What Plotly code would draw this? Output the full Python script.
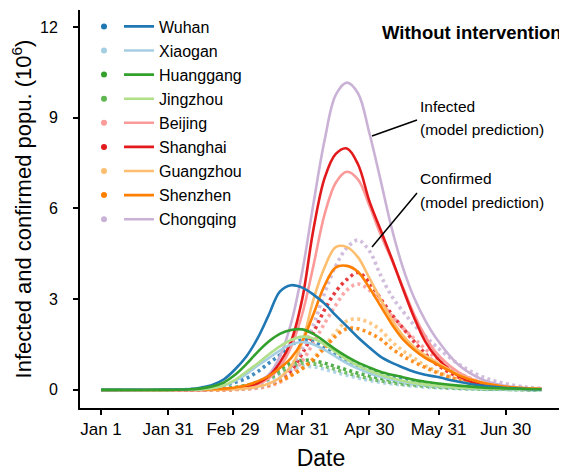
import pandas as pd
import plotly.graph_objects as go

# ---------------- data ----------------
BASE_DATE = "2020-01-01"
DAYS = [0, 30, 40, 45, 50, 55, 60, 65, 70, 75, 80, 85, 90, 95, 100, 105, 110,
        115, 120, 125, 130, 135, 140, 145, 150, 160, 170, 180, 190, 197]

CITIES = ["Wuhan", "Xiaogan", "Huanggang", "Jingzhou", "Beijing",
          "Shanghai", "Guangzhou", "Shenzhen", "Chongqing"]

# infected (model prediction), millions
WUHAN_INF = [0, 0.01, 0.03, 0.08, 0.17, 0.35, 0.68, 1.1, 1.7, 2.47, 3.25, 3.46, 3.38, 3.15, 2.85, 2.46, 2.1, 1.73, 1.4, 1.1, 0.9, 0.74, 0.6, 0.5, 0.43, 0.27, 0.14, 0.07, 0.03, 0.02]
XIAOGAN_INF = [0, 0, 0.01, 0.02, 0.06, 0.14, 0.3, 0.52, 0.8, 1.05, 1.3, 1.5, 1.58, 1.5, 1.32, 1.1, 0.88, 0.7, 0.55, 0.43, 0.34, 0.26, 0.2, 0.16, 0.12, 0.07, 0.04, 0.02, 0.01, 0.01]
HUANGGANG_INF = [0, 0, 0.02, 0.05, 0.12, 0.25, 0.5, 0.85, 1.25, 1.6, 1.85, 1.98, 2.0, 1.85, 1.6, 1.33, 1.1, 0.9, 0.74, 0.6, 0.5, 0.42, 0.33, 0.27, 0.22, 0.14, 0.08, 0.05, 0.03, 0.02]
JINGZHOU_INF = [0, 0, 0.01, 0.02, 0.06, 0.15, 0.33, 0.6, 0.87, 1.17, 1.44, 1.65, 1.76, 1.7, 1.5, 1.25, 1.0, 0.8, 0.63, 0.5, 0.39, 0.3, 0.23, 0.18, 0.14, 0.08, 0.05, 0.03, 0.02, 0.01]
BEIJING_INF = [0, 0, 0, 0, 0.01, 0.02, 0.04, 0.08, 0.18, 0.38, 0.75, 1.42, 2.5, 4.1, 5.8, 6.85, 7.21, 6.95, 6.1, 5.15, 4.3, 3.4, 2.5, 1.78, 1.22, 0.58, 0.25, 0.1, 0.04, 0.02]
SHANGHAI_INF = [0, 0, 0, 0, 0.01, 0.02, 0.05, 0.1, 0.22, 0.45, 0.9, 1.6, 3.0, 5.3, 7.0, 7.8, 7.98, 7.45, 6.25, 5.3, 4.35, 3.35, 2.4, 1.6, 1.08, 0.45, 0.18, 0.07, 0.03, 0.01]
GUANGZHOU_INF = [0, 0, 0, 0, 0, 0.01, 0.02, 0.05, 0.1, 0.2, 0.4, 0.78, 1.58, 2.98, 4.05, 4.72, 4.72, 4.38, 3.7, 3.0, 2.33, 1.8, 1.42, 1.14, 0.92, 0.5, 0.25, 0.11, 0.05, 0.03]
SHENZHEN_INF = [0, 0, 0.01, 0.01, 0.02, 0.04, 0.08, 0.15, 0.28, 0.45, 0.72, 1.05, 1.6, 2.5, 3.45, 4.05, 4.1, 3.9, 3.38, 2.78, 2.18, 1.68, 1.33, 1.06, 0.86, 0.48, 0.24, 0.11, 0.05, 0.03]
CHONGQING_INF = [0, 0, 0, 0, 0.01, 0.02, 0.05, 0.12, 0.25, 0.5, 1.1, 2.2, 3.9, 6.15, 8.25, 9.75, 10.16, 9.8, 8.5, 6.95, 5.35, 4.05, 3.05, 2.3, 1.7, 0.82, 0.36, 0.14, 0.05, 0.02]

# confirmed (model prediction), millions
WUHAN_CONF = [0, 0, 0.01, 0.03, 0.07, 0.15, 0.25, 0.38, 0.6, 0.88, 1.15, 1.48, 1.65, 1.6, 1.37, 1.17, 0.98, 0.8, 0.66, 0.55, 0.45, 0.38, 0.3, 0.23, 0.18, 0.1, 0.05, 0.03, 0.01, 0.01]
XIAOGAN_CONF = [0, 0, 0, 0.01, 0.02, 0.03, 0.06, 0.11, 0.19, 0.31, 0.5, 0.68, 0.77, 0.76, 0.68, 0.58, 0.48, 0.39, 0.31, 0.25, 0.2, 0.16, 0.12, 0.09, 0.07, 0.04, 0.02, 0.01, 0.01, 0]
HUANGGANG_CONF = [0, 0, 0, 0.01, 0.02, 0.04, 0.08, 0.15, 0.26, 0.42, 0.68, 0.9, 0.98, 0.96, 0.88, 0.77, 0.66, 0.55, 0.46, 0.38, 0.31, 0.25, 0.2, 0.16, 0.12, 0.07, 0.04, 0.02, 0.01, 0.01]
JINGZHOU_CONF = [0, 0, 0, 0.01, 0.01, 0.03, 0.07, 0.13, 0.22, 0.36, 0.58, 0.78, 0.88, 0.86, 0.78, 0.67, 0.56, 0.46, 0.37, 0.3, 0.24, 0.19, 0.15, 0.12, 0.09, 0.05, 0.03, 0.02, 0.01, 0]
BEIJING_CONF = [0, 0, 0, 0, 0, 0, 0.01, 0.03, 0.06, 0.12, 0.25, 0.5, 0.95, 1.55, 2.2, 2.8, 3.3, 3.5, 3.3, 2.9, 2.45, 2.05, 1.7, 1.35, 1.05, 0.55, 0.26, 0.12, 0.05, 0.03]
SHANGHAI_CONF = [0, 0, 0, 0, 0, 0.01, 0.02, 0.05, 0.09, 0.16, 0.33, 0.64, 1.2, 1.9, 2.65, 3.25, 3.65, 3.88, 3.55, 3.02, 2.5, 2.05, 1.6, 1.2, 0.85, 0.42, 0.2, 0.09, 0.04, 0.02]
GUANGZHOU_CONF = [0, 0, 0, 0, 0, 0, 0.01, 0.03, 0.07, 0.15, 0.28, 0.47, 0.72, 1.05, 1.45, 1.9, 2.28, 2.34, 2.22, 1.98, 1.6, 1.3, 1.05, 0.8, 0.62, 0.34, 0.17, 0.08, 0.04, 0.02]
SHENZHEN_CONF = [0, 0, 0, 0, 0, 0.01, 0.02, 0.04, 0.09, 0.17, 0.3, 0.48, 0.7, 1.0, 1.38, 1.78, 2.02, 2.02, 1.88, 1.68, 1.37, 1.12, 0.92, 0.74, 0.58, 0.33, 0.17, 0.08, 0.04, 0.02]
CHONGQING_CONF = [0, 0, 0, 0, 0, 0.01, 0.02, 0.04, 0.08, 0.18, 0.38, 0.75, 1.35, 2.15, 3.2, 4.1, 4.7, 4.95, 4.6, 3.8, 3.1, 2.6, 2.15, 1.78, 1.43, 0.85, 0.45, 0.22, 0.09, 0.05]

TICK_DATES = ["2020-01-01", "2020-01-31", "2020-02-29", "2020-03-31",
              "2020-04-30", "2020-05-31", "2020-06-30"]
TICK_LABELS = ["Jan 1", "Jan 31", "Feb 29", "Mar 31", "Apr 30", "May 31", "Jun 30"]
Y_TICKS = [0, 3, 6, 9, 12]

LINE_COLORS = ["#1f78b4", "#a6cee3", "#33a02c", "#b2df8a", "#fb9a99",
               "#e31a1c", "#fdbf6f", "#ff7f00", "#cab2d6"]
DOT_COLORS = ["#1f78b4", "#a6cee3", "#33a02c", "#5fb64f", "#fb9a99",
              "#e31a1c", "#fdbf6f", "#ff7f00", "#cab2d6"]

INFECTED = [WUHAN_INF, XIAOGAN_INF, HUANGGANG_INF, JINGZHOU_INF, BEIJING_INF,
            SHANGHAI_INF, GUANGZHOU_INF, SHENZHEN_INF, CHONGQING_INF]
CONFIRMED = [WUHAN_CONF, XIAOGAN_CONF, HUANGGANG_CONF, JINGZHOU_CONF, BEIJING_CONF,
             SHANGHAI_CONF, GUANGZHOU_CONF, SHENZHEN_CONF, CHONGQING_CONF]

# ---------------- figure ----------------
base = pd.Timestamp(BASE_DATE)
dates = [base + pd.Timedelta(days=d) for d in DAYS]

# the page body adds an 8px offset, so the figure is 8px smaller
OFF = 8
W, H = 567 - OFF, 471 - OFF
ML, MR, MT, MB = 80 - OFF, 5, 10 - OFF, 63
PW, PH = W - ML - MR, H - MT - MB


def px(x):
    """page x (pixels) -> paper x"""
    return (x - OFF - ML) / PW


def py(y):
    """page y (pixels) -> paper y"""
    return (H - MB - (y - OFF)) / PH


fig = go.Figure()

# confirmed (dotted)
for i, city in enumerate(CITIES):
    fig.add_trace(go.Scatter(
        x=dates, y=CONFIRMED[i], mode="lines", line_shape="spline",
        line=dict(color=DOT_COLORS[i], width=3.6, dash="3px,3.4px"),
        opacity=0.85, showlegend=False, hoverinfo="skip"))

# infected (solid)
order = [8, 4, 5, 6, 7, 1, 3, 0, 2]
for i in order:
    fig.add_trace(go.Scatter(
        x=dates, y=INFECTED[i], mode="lines", line_shape="spline",
        line=dict(color=LINE_COLORS[i], width=2.6),
        showlegend=False, hoverinfo="skip"))

# legend entries
for i, city in enumerate(CITIES):
    fig.add_trace(go.Scatter(
        x=[None], y=[None], mode="markers",
        marker=dict(color=DOT_COLORS[i], size=6),
        name=" ", legend="legend", legendgroup="c" + city, showlegend=True))
for i, city in enumerate(CITIES):
    fig.add_trace(go.Scatter(
        x=[None], y=[None], mode="lines",
        line=dict(color=LINE_COLORS[i], width=2.6),
        name=city, legend="legend2", legendgroup="i" + city, showlegend=True))

x_lo = base + pd.Timedelta(days=-9.4)
x_hi = base + pd.Timedelta(days=206.2)

axis_common = dict(showline=True, linecolor="black", linewidth=2, ticks="outside",
                   ticklen=5, tickwidth=1.5, tickcolor="black", showgrid=False,
                   zeroline=False, automargin=False)

legend_common = dict(xanchor="left", yanchor="top", bgcolor="rgba(0,0,0,0)",
                     traceorder="grouped", tracegroupgap=0.3, itemwidth=30,
                     font=dict(size=16), borderwidth=0)

fig.update_layout(
    width=W, height=H, margin=dict(l=ML, r=MR, t=MT, b=MB, autoexpand=False),
    plot_bgcolor="white", paper_bgcolor="white",
    font=dict(family="Liberation Sans, Arial, Helvetica, sans-serif", size=14, color="black"),
    xaxis=dict(type="date", range=[x_lo, x_hi], tickvals=TICK_DATES, ticktext=TICK_LABELS,
               tickfont=dict(size=17),
               title=dict(text="Date", font=dict(size=23), standoff=22), **axis_common),
    yaxis=dict(range=[-0.6, 12.56], tickvals=Y_TICKS, tickfont=dict(size=16),
               ticklabelstandoff=12,
               title=dict(text="Infected and confirmed popu. (10<sup>6</sup>)",
                          font=dict(size=22), standoff=12), **axis_common),
    legend=dict(x=px(84), y=py(9.5), **legend_common),
    legend2=dict(x=px(119), y=py(9.5), **legend_common),
    showlegend=True,
)

fig.add_annotation(text="<b>Without intervention</b>", x=px(564), y=py(33),
                   xref="paper", yref="paper", xanchor="right", yanchor="middle",
                   showarrow=False, font=dict(size=18.5))
for txt, yy in [("Infected", 106), ("(model prediction)", 129),
                ("Confirmed", 178), ("(model prediction)", 202)]:
    fig.add_annotation(text=txt, x=px(418), y=py(yy), xref="paper", yref="paper",
                       xanchor="left", yanchor="middle", showarrow=False,
                       font=dict(size=15.5))

fig.add_shape(type="line", xref="paper", yref="paper", x0=px(372), y0=py(136),
              x1=px(417), y1=py(120), line=dict(color="black", width=1.5))
fig.add_shape(type="line", xref="paper", yref="paper", x0=px(372), y0=py(247),
              x1=px(417), y1=py(193), line=dict(color="black", width=1.5))

fig.write_html("out.html")
